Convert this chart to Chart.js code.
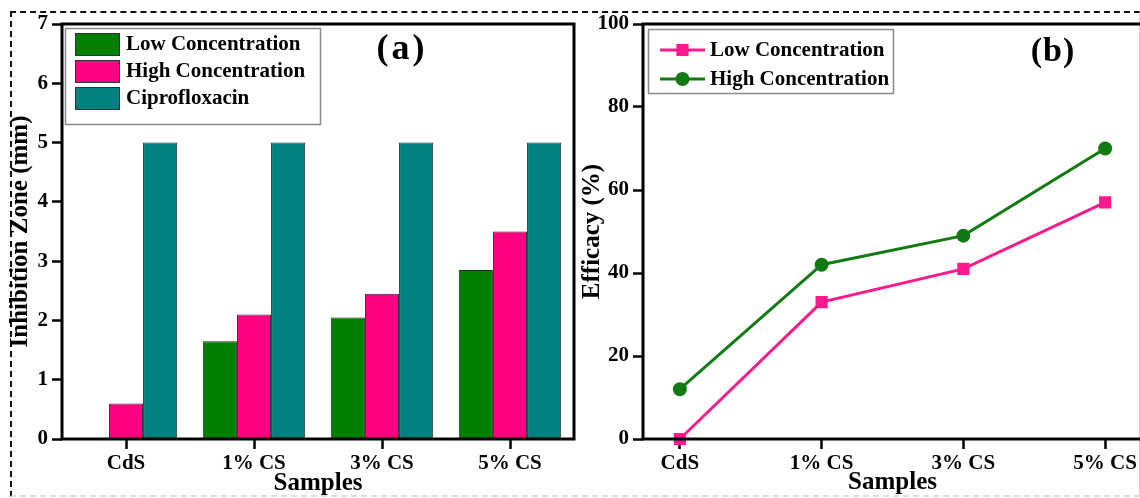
<!DOCTYPE html>
<html><head><meta charset="utf-8">
<script src="https://cdn.jsdelivr.net/npm/chart.js@4.4.0/dist/chart.umd.min.js"></script>
<style>
html,body{margin:0;padding:0;background:#fff;overflow:hidden;width:1140px;height:498px;}
#frame{position:absolute;left:10px;top:11px;width:1127px;height:482px;border-left:2px dashed #111;border-top:2px dashed #111;border-bottom:2px dashed #ddd;border-right:1px solid #ccc;}
#ca{position:absolute;left:0;top:0;}
#cb{position:absolute;left:580px;top:0;}
</style></head>
<body>
<div id="frame"></div>
<canvas id="ca" width="580" height="498"></canvas>
<canvas id="cb" width="580" height="498"></canvas>
<script>
// ---- data ----
const categories = ['CdS', '1% CS', '3% CS', '5% CS'];
const zoneLow = [0, 1.65, 2.05, 2.85];
const zoneHigh = [0.6, 2.1, 2.45, 3.5];
const zoneCipro = [5, 5, 5, 5];
const efficacyLow = [0, 33, 41, 57];
const efficacyHigh = [12, 42, 49, 70];
const zoneTicks = [0, 1, 2, 3, 4, 5, 6, 7];
const efficacyTicks = [0, 20, 40, 60, 80, 100];

const SERIF = "'Liberation Serif', 'Times New Roman', serif";
Chart.defaults.font.family = SERIF;
Chart.defaults.font.weight = 'bold';
Chart.defaults.color = '#000';

const tickFont = {family: SERIF, size: 21, weight: 'bold', lineHeight: 1.2};
const titleFont = {family: SERIF, size: 25, weight: 'bold', lineHeight: 1};

const framePlugin = {
  id: 'frameBox',
  afterDraw(chart) {
    const {ctx, chartArea: a} = chart;
    ctx.save();
    ctx.strokeStyle = '#000';
    ctx.lineWidth = 3;
    ctx.strokeRect(a.left, a.top, a.right - a.left, a.bottom - a.top);
    ctx.restore();
  }
};

const barLegendPlugin = {
  id: 'barLegend',
  afterDraw(chart) {
    const ctx = chart.ctx;
    ctx.save();
    ctx.strokeStyle = '#8a8a8a';
    ctx.lineWidth = 1.5;
    ctx.strokeRect(65.5, 28.5, 255, 96);
    ctx.font = 'bold 21px ' + SERIF;
    ctx.textBaseline = 'middle';
    ctx.textAlign = 'left';
    chart.data.datasets.forEach((ds, i) => {
      const y = 33 + 27 * i;
      ctx.fillStyle = ds.backgroundColor;
      ctx.fillRect(75, y, 44, 22);
      ctx.strokeStyle = '#333';
      ctx.lineWidth = 1;
      ctx.strokeRect(75.5, y + 0.5, 44, 22);
      ctx.fillStyle = '#000';
      ctx.fillText(ds.label, 126, y + 12);
    });
    ctx.font = 'bold 36px ' + SERIF;
    ctx.textAlign = 'center';
    try { ctx.letterSpacing = '3px'; } catch (e) {}
    ctx.fillText('(a)', 402, 50);
    ctx.restore();
  }
};

const lineLegendPlugin = {
  id: 'lineLegend',
  afterDraw(chart) {
    const ctx = chart.ctx;
    ctx.save();
    ctx.strokeStyle = '#8a8a8a';
    ctx.lineWidth = 1.5;
    ctx.strokeRect(68.5, 29.5, 245, 64);
    ctx.font = 'bold 21px ' + SERIF;
    ctx.textBaseline = 'middle';
    ctx.textAlign = 'left';
    chart.data.datasets.forEach((ds, i) => {
      const y = 50 + 29 * i;
      ctx.strokeStyle = ds.borderColor;
      ctx.lineWidth = 3;
      ctx.beginPath(); ctx.moveTo(80, y); ctx.lineTo(125, y); ctx.stroke();
      ctx.fillStyle = ds.pointBackgroundColor;
      ctx.strokeStyle = ds.pointBorderColor;
      Chart.helpers.drawPoint(ctx, {pointStyle: ds.pointStyle, radius: ds.pointRadius, rotation: 0, borderWidth: 1}, 102.5, y);
      ctx.fillStyle = '#000';
      ctx.fillText(ds.label, 130, y + 1);
    });
    ctx.font = 'bold 34px ' + SERIF;
    ctx.textAlign = 'center';
    try { ctx.letterSpacing = '1px'; } catch (e) {}
    ctx.fillText('(b)', 473, 52);
    ctx.restore();
  }
};

const gridStyle = {display: true, drawOnChartArea: false, drawTicks: true, tickLength: 10, tickWidth: 2.5, tickColor: '#000', offset: false};

// ---- chart (a) ----
new Chart(document.getElementById('ca'), {
  type: 'bar',
  data: {
    labels: categories,
    datasets: [
      {label: 'Low Concentration', data: zoneLow, backgroundColor: '#008000', borderColor: '#2a2a2a', borderWidth: 1},
      {label: 'High Concentration', data: zoneHigh, backgroundColor: '#ff0080', borderColor: '#2a2a2a', borderWidth: 1},
      {label: 'Ciprofloxacin', data: zoneCipro, backgroundColor: '#008080', borderColor: '#2a2a2a', borderWidth: 1}
    ]
  },
  options: {
    responsive: false, animation: false, events: [],
    layout: {padding: {top: 24, right: 6, left: 0, bottom: 0}},
    datasets: {bar: {categoryPercentage: 0.8, barPercentage: 1.0}},
    plugins: {legend: {display: false}, tooltip: {enabled: false}},
    scales: {
      x: {
        type: 'category', offset: true,
        grid: gridStyle, border: {display: false},
        ticks: {font: tickFont, color: '#000', padding: 2, maxRotation: 0},
        title: {display: true, text: 'Samples', font: titleFont, color: '#000', padding: {top: 0, bottom: 2}},
        afterFit(s) { s.height = 59; }
      },
      y: {
        min: 0, max: 7,
        grid: gridStyle, border: {display: false},
        afterBuildTicks(s) { s.ticks = zoneTicks.map(v => ({value: v})); },
        ticks: {font: tickFont, color: '#000', padding: 4},
        title: {display: true, text: 'Inhibition Zone (mm)', font: titleFont, color: '#000', padding: {top: 8, bottom: 0}},
        afterFit(s) { s.width = 62; }
      }
    }
  },
  plugins: [framePlugin, barLegendPlugin]
});

// ---- chart (b) ----
new Chart(document.getElementById('cb'), {
  type: 'line',
  data: {
    datasets: [
      {label: 'Low Concentration', data: efficacyLow.map((v, i) => ({x: i, y: v})),
       borderColor: '#ff1a8c', backgroundColor: '#ff1a8c', borderWidth: 3,
       pointStyle: 'rect', pointRadius: 6.5, pointBackgroundColor: '#ff1a8c', pointBorderColor: '#ff1a8c', clip: false},
      {label: 'High Concentration', data: efficacyHigh.map((v, i) => ({x: i, y: v})),
       borderColor: '#127a12', backgroundColor: '#127a12', borderWidth: 3,
       pointStyle: 'circle', pointRadius: 5.5, pointBackgroundColor: '#127a12', pointBorderColor: '#127a12', clip: false}
    ]
  },
  options: {
    responsive: false, animation: false, events: [],
    layout: {padding: {top: 24, right: 18, left: 0, bottom: 0}},
    plugins: {legend: {display: false}, tooltip: {enabled: false}},
    scales: {
      x: {
        type: 'linear', min: -0.26, max: 3.26,
        grid: gridStyle, border: {display: false},
        afterBuildTicks(s) { s.ticks = categories.map((c, i) => ({value: i})); },
        ticks: {font: tickFont, color: '#000', padding: 2, maxRotation: 0, autoSkip: false,
                callback: (v) => categories[v]},
        title: {display: true, text: 'Samples', font: titleFont, color: '#000', padding: {top: 0, bottom: 3}},
        afterFit(s) { s.height = 59; }
      },
      y: {
        min: 0, max: 100,
        grid: gridStyle, border: {display: false},
        afterBuildTicks(s) { s.ticks = efficacyTicks.map(v => ({value: v})); },
        ticks: {font: tickFont, color: '#000', padding: 4},
        title: {display: true, text: 'Efficacy (%)', font: titleFont, color: '#000', padding: {top: 0, bottom: 0}},
        afterFit(s) { s.width = 63; }
      }
    }
  },
  plugins: [framePlugin, lineLegendPlugin]
});
</script>
</body></html>
